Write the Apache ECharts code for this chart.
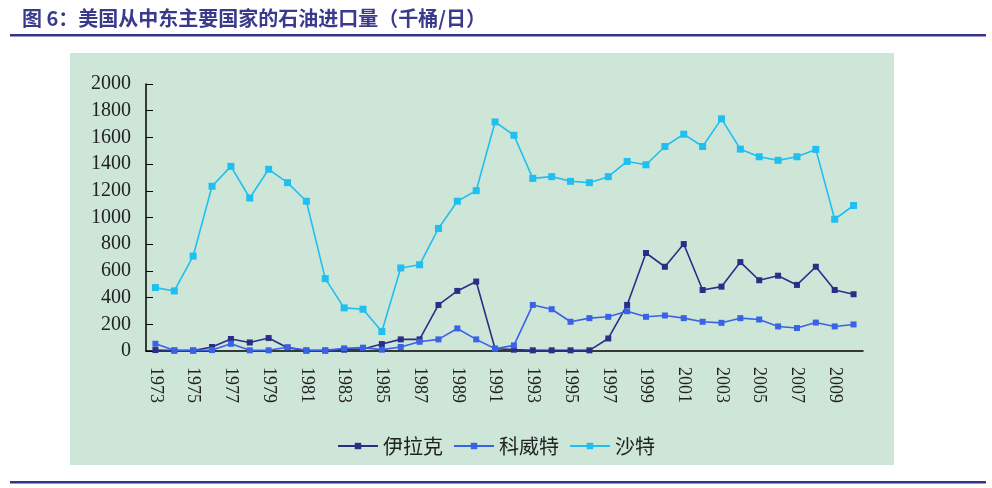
<!DOCTYPE html>
<html>
<head>
<meta charset="utf-8">
<script src="https://cdn.jsdelivr.net/npm/echarts@6/dist/echarts.min.js"></script>
<style>
html,body{margin:0;padding:0;background:#fff;}
#c{width:992px;height:488px;}
</style>
</head>
<body>
<div id="c"></div>
<script>
const years = [];
for (let y = 1973; y <= 2010; y++) years.push(String(y));

const iraq = [7,3,3,30,90,64,97,25,3,3,10,15,52,87,87,345,450,520,17,10,5,5,5,5,94,345,734,631,801,457,482,666,530,564,495,631,457,425];
const kuwait = [54,5,5,7,54,5,5,28,5,5,20,25,10,30,69,87,169,87,17,42,345,313,219,246,256,298,256,266,246,219,211,246,236,184,172,213,184,199];
const saudi = [475,450,711,1234,1383,1146,1361,1261,1122,542,323,313,146,622,646,918,1122,1201,1716,1616,1293,1306,1271,1261,1306,1420,1395,1532,1624,1532,1739,1512,1455,1428,1455,1510,987,1090];

const seriesNames = ['伊拉克','科威特','沙特'];
const colors = ['#2b2d86','#3a62e6','#1fbff0'];
const yTicks = {min:0, max:2000, interval:200};
const titleText = '图 6：美国从中东主要国家的石油进口量（千桶/日）';

const chart = echarts.init(document.getElementById('c'), null, {renderer:'canvas'});
function mk(name, data, color, size){
  return {
    name, type:'line', data,
    symbol:'rect', symbolSize:size,
    lineStyle:{color, width:1.6},
    itemStyle:{color},
    animation:false
  };
}
chart.setOption({
  backgroundColor:'#ffffff',
  animation:false,
  graphic:[
    {type:'rect', z:-10, shape:{x:70,y:53,width:824,height:412}, style:{fill:'#cde6d7'}},
    {type:'rect', z:-5, shape:{x:10,y:34,width:976,height:2.5}, style:{fill:'#35348a'}},
    {type:'rect', z:-5, shape:{x:10,y:481,width:976,height:2.5}, style:{fill:'#35348a'}},
    {type:'text', left:22, top:8, style:{text:titleText, fill:'#3a3a8c', font:'bold 20px "Noto Sans CJK SC"'}}
  ],
  grid:{left:146, right:129, top:84, bottom:137},
  legend:{
    data:seriesNames, bottom:27, left:'center',
    itemWidth:40, itemHeight:8, itemGap:10,
    textStyle:{fontFamily:'"Noto Sans CJK SC"', fontSize:20, color:'#222'}
  },
  xAxis:{
    type:'category', data:years, boundaryGap:true,
    axisLine:{lineStyle:{color:'#000', width:1.5}},
    axisTick:{inside:true, length:7, interval:1, lineStyle:{color:'#000'}},
    axisLabel:{interval:1, rotate:-90, margin:16, fontFamily:'"Liberation Serif"', fontSize:18, color:'#222'}
  },
  yAxis:{
    type:'value', min:yTicks.min, max:yTicks.max, interval:yTicks.interval,
    splitLine:{show:false},
    axisLine:{show:true, lineStyle:{color:'#000', width:1.5}},
    axisTick:{show:true, inside:true, length:7, lineStyle:{color:'#000'}},
    axisLabel:{margin:15, fontFamily:'"Liberation Serif"', fontSize:20, color:'#222', formatter:function(v){return String(v);}}
  },
  series:[
    mk(seriesNames[0], iraq, colors[0], 6),
    mk(seriesNames[1], kuwait, colors[1], 6),
    mk(seriesNames[2], saudi, colors[2], 7)
  ]
});
</script>
</body>
</html>
